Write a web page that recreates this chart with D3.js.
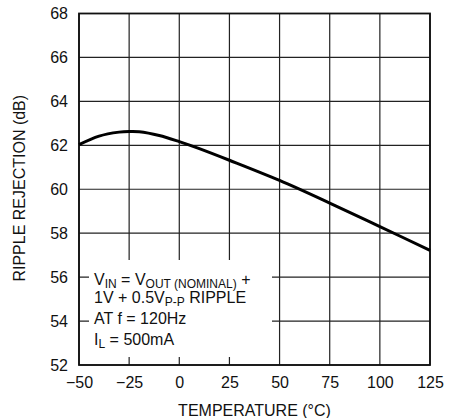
<!DOCTYPE html>
<html>
<head>
<meta charset="utf-8">
<script src="https://cdn.jsdelivr.net/npm/d3@7"></script>
<style>
  body { margin: 0; background: #fff; }
  text { font-family: "Liberation Sans", Arial, sans-serif; fill: #111; }
</style>
</head>
<body>
<svg id="chart" width="462" height="418"></svg>
<script>
// ripple rejection vs temperature
const temps = [-50, -40, -30, -25, -20, -10, 0, 10, 25, 50, 75, 100, 125];
const rejection = [62.03, 62.42, 62.6, 62.63, 62.62, 62.45, 62.17, 61.85, 61.32, 60.4, 59.37, 58.3, 57.22];
const xTicks = [-50, -25, 0, 25, 50, 75, 100, 125];
const yTicks = [52, 54, 56, 58, 60, 62, 64, 66, 68];

const data = temps.map((t, i) => ({ t: t, v: rejection[i] }));

const plotL = 79, plotR = 430, plotT = 13.5, plotB = 365;
const svg = d3.select('#chart');

const xScale = d3.scaleLinear().domain([-50, 125]).range([plotL, plotR]);
const yScale = d3.scaleLinear().domain([52, 68]).range([plotB, plotT]);

// grid
svg.append('g')
    .selectAll('line')
    .data(xTicks)
    .join('line')
    .attr('x1', d => xScale(d)).attr('x2', d => xScale(d))
    .attr('y1', plotT).attr('y2', plotB)
    .attr('stroke', '#222').attr('stroke-width', 1.2)
svg.append('g')
    .selectAll('line')
    .data(yTicks)
    .join('line')
    .attr('x1', plotL).attr('x2', plotR)
    .attr('y1', d => yScale(d)).attr('y2', d => yScale(d))
    .attr('stroke', '#222').attr('stroke-width', 1.2)

const xAxis = d3.axisBottom(xScale).tickValues(xTicks).tickSize(0).tickPadding(12)
const yAxis = d3.axisLeft(yScale).tickValues(yTicks).tickSize(0).tickPadding(11)

svg.append('g')
    .attr('transform', `translate(0,${plotB})`)
    .call(xAxis)
    .call(g => g.select('.domain').remove())
    .selectAll('text').attr('font-size', 16).attr('font-family', null)

svg.append('g')
    .attr('transform', `translate(${plotL},0)`)
    .call(yAxis)
    .call(g => g.select('.domain').remove())
    .selectAll('text').attr('font-size', 16).attr('font-family', null)

svg.selectAll('.tick text').attr('fill', '#111')

// annotation box (white under text)
svg.append('rect')
    .attr('x', 89).attr('y', 260).attr('width', 183).attr('height', 97)
    .attr('fill', '#fff')

const note = svg.append('text').attr('font-size', 16)
const l1 = note.append('tspan').attr('x', 94).attr('y', 285)
l1.append('tspan').text('V')
l1.append('tspan').attr('font-size', 12).attr('dy', 3).text('IN')
l1.append('tspan').attr('dy', -3).text(' = V')
l1.append('tspan').attr('font-size', 12).attr('dy', 3).text('OUT (NOMINAL)')
l1.append('tspan').attr('dy', -3).text(' +')
const l2 = note.append('tspan').attr('x', 94).attr('y', 303)
l2.append('tspan').text('1V + 0.5V')
l2.append('tspan').attr('font-size', 12).attr('dy', 3).text('P-P')
l2.append('tspan').attr('dy', -3).text(' RIPPLE')
note.append('tspan').attr('x', 94).attr('y', 324).text('AT f = 120Hz')
const l4 = note.append('tspan').attr('x', 94).attr('y', 345)
l4.append('tspan').text('I')
l4.append('tspan').attr('font-size', 12).attr('dy', 3).text('L')
l4.append('tspan').attr('dy', -3).text(' = 500mA')

// frame
svg.append('rect')
    .attr('x', plotL).attr('y', plotT)
    .attr('width', plotR - plotL).attr('height', plotB - plotT)
    .attr('fill', 'none').attr('stroke', '#111').attr('stroke-width', 1.8)

// curve
const line = d3.line().x(d => xScale(d.t)).y(d => yScale(d.v)).curve(d3.curveCatmullRom)
svg.append('path')
    .attr('d', line(data))
    .attr('fill', 'none').attr('stroke', '#000').attr('stroke-width', 3)

// axis titles
svg.append('text')
    .attr('x', (plotL + plotR) / 2).attr('y', 416)
    .attr('text-anchor', 'middle').attr('font-size', 16)
    .text('TEMPERATURE (°C)')
svg.append('text')
    .attr('transform', `translate(25,${(plotT + plotB) / 2 - 1}) rotate(-90)`)
    .attr('text-anchor', 'middle').attr('font-size', 16)
    .text('RIPPLE REJECTION (dB)')
</script>
</body>
</html>
